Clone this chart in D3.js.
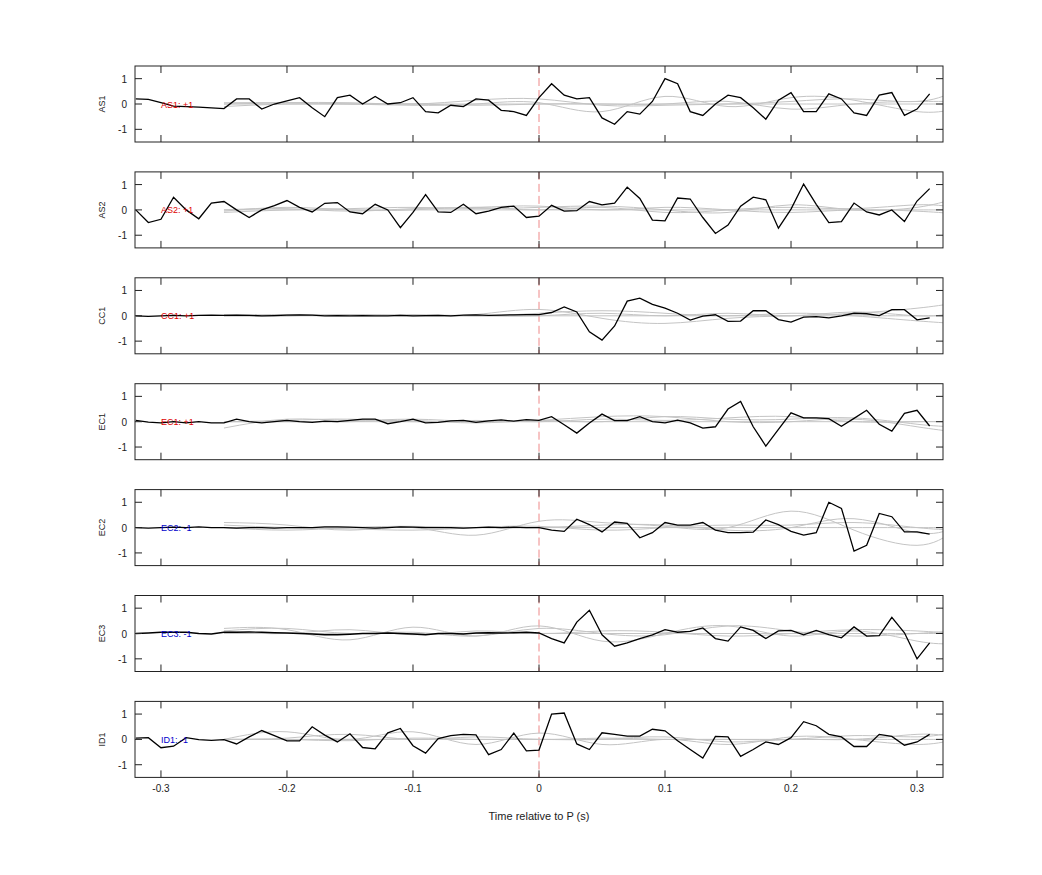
<!DOCTYPE html>
<html>
<head>
<meta charset="utf-8">
<script src="https://cdn.jsdelivr.net/npm/d3@7"></script>
<style>
body{margin:0;background:#fff;font-family:"Liberation Sans",Arial,sans-serif}
</style>
</head>
<body>
<div id="chart"></div>
<script>
// stations, polarity and colour of the label
var stations = ["AS1","AS2","CC1","EC1","EC2","EC3","ID1"];
var polarity = ["+1","+1","+1","+1","-1","-1","-1"];
var labelColor = ["#d00","#d00","#d00","#d00","#00c","#00c","#00c"];

// time samples of the black trace (s)
var times = d3.range(64).map(function(i){ return +(-0.32 + i*0.01).toFixed(2); });

var AS1 = [0.2,0.18,0.05,-0.08,-0.1,-0.12,-0.15,-0.18,0.2,0.2,-0.2,0.0,0.12,0.25,-0.15,-0.5,0.25,0.35,0.0,0.3,0.0,0.05,0.25,-0.3,-0.35,-0.05,-0.1,0.2,0.15,-0.25,-0.3,-0.45,
  0.25,0.8,0.35,0.2,0.25,-0.55,-0.8,-0.3,-0.4,0.1,1.0,0.8,-0.3,-0.45,0.0,0.35,0.25,-0.15,-0.6,0.15,0.45,-0.3,-0.3,0.4,0.2,-0.35,-0.45,0.35,0.45,-0.45,-0.2,0.4];
var AS2 = [0.0,-0.5,-0.37,0.5,0.0,-0.35,0.27,0.33,0.0,-0.3,0.0,0.17,0.37,0.1,-0.08,0.26,0.29,-0.08,-0.15,0.22,0.0,-0.7,-0.1,0.6,-0.08,-0.1,0.22,-0.15,-0.05,0.1,0.15,-0.3,
  -0.25,0.18,-0.05,-0.03,0.33,0.2,0.27,0.9,0.45,-0.4,-0.43,0.47,0.43,-0.3,-0.93,-0.6,0.15,0.5,0.4,-0.72,0.03,1.02,0.22,-0.5,-0.46,0.27,-0.08,-0.2,0.0,-0.46,0.35,0.84];
var CC1 = [0.0,-0.02,0.0,0.02,0.0,0.02,0.03,0.02,0.03,0.02,0.0,0.01,0.03,0.04,0.03,0.0,0.01,0.0,0.01,0.0,0.0,0.02,0.0,0.01,0.02,0.0,0.03,0.04,0.02,0.03,0.04,0.05,
  0.05,0.13,0.35,0.15,-0.63,-0.96,-0.4,0.58,0.7,0.45,0.3,0.1,-0.17,-0.01,0.04,-0.22,-0.21,0.2,0.2,-0.15,-0.25,-0.05,-0.03,-0.08,0.0,0.1,0.08,0.01,0.24,0.24,-0.16,-0.08];
var EC1 = [0.05,-0.02,-0.05,0.0,-0.05,0.0,-0.05,-0.05,0.1,0.0,-0.05,0.0,0.05,0.0,-0.03,0.02,0.0,0.05,0.1,0.1,-0.08,0.0,0.1,-0.05,-0.03,0.03,0.05,-0.03,0.03,0.07,0.02,0.08,
  0.05,0.2,-0.12,-0.45,-0.05,0.3,0.04,0.04,0.2,0.0,-0.05,0.06,-0.05,-0.25,-0.2,0.5,0.8,-0.2,-0.96,-0.3,0.35,0.15,0.15,0.12,-0.18,0.13,0.45,-0.1,-0.37,0.33,0.45,-0.17];
var EC2 = [0.0,-0.02,0.0,0.02,0.0,0.03,0.0,0.0,-0.02,0.0,0.0,-0.02,0.0,0.0,0.0,0.03,0.03,0.02,0.0,-0.02,0.0,0.03,0.02,0.0,0.0,0.0,-0.02,0.0,0.02,0.0,0.02,0.0,
  0.0,-0.1,-0.15,0.33,0.12,-0.17,0.22,0.17,-0.4,-0.2,0.2,0.1,0.1,0.2,-0.1,-0.2,-0.2,-0.18,0.3,0.12,-0.15,-0.3,-0.2,1.0,0.76,-0.93,-0.7,0.56,0.43,-0.17,-0.17,-0.26];
var EC3 = [0.0,0.02,0.05,0.05,0.05,0.0,-0.02,0.05,0.05,0.06,0.05,0.03,0.02,0.0,-0.02,-0.05,-0.05,-0.03,0.0,0.0,0.02,0.0,-0.02,-0.05,0.0,0.0,-0.02,0.02,0.03,0.02,0.03,0.05,
  0.02,-0.2,-0.37,0.45,0.92,-0.05,-0.5,-0.37,-0.2,-0.05,0.15,0.05,0.08,0.22,-0.2,-0.3,0.26,0.12,-0.2,0.1,0.12,-0.05,0.12,-0.04,-0.17,0.26,-0.1,-0.08,0.64,0.03,-1.0,-0.37];
var ID1 = [0.05,0.07,-0.33,-0.27,0.07,-0.01,-0.04,-0.01,-0.18,0.1,0.35,0.15,-0.06,-0.06,0.5,0.17,-0.1,0.22,-0.32,-0.37,0.26,0.43,-0.25,-0.54,0.03,0.15,0.2,0.18,-0.6,-0.4,0.25,-0.45,
  -0.42,1.0,1.04,-0.18,-0.4,0.26,0.2,0.13,0.13,0.4,0.34,-0.05,-0.4,-0.74,0.12,0.1,-0.67,-0.4,-0.1,-0.2,0.07,0.7,0.54,0.2,0.1,-0.28,-0.28,0.2,0.12,-0.23,-0.1,0.2];
var traces = [AS1,AS2,CC1,EC1,EC2,EC3,ID1];

// grey synthetic traces, sampled every 0.05 s
var grayTimes = [-0.25,-0.2,-0.15,-0.1,-0.05,0,0.05,0.1,0.15,0.2,0.25,0.3,0.33];
var grayAS1 = [
  [0,0,0,0,0,0,0,0,0,0,0,0,0],
  [0.05,0.05,0.0,-0.05,0.0,0.05,-0.3,0.3,-0.1,0.25,0.15,-0.3,-0.2],
  [0,0.05,0.05,0.0,0.15,0.2,-0.05,-0.05,0.0,0.1,0.2,0.1,0.5],
  [-0.1,0.0,0.0,0.0,-0.05,0.0,0.0,0.0,0.1,-0.2,0.0,0.1,0.1]];
var grayAS2 = [
  [0,0,0,0,0,0,0,0,0,0,0,0,0],
  [-0.1,0.0,0.05,0.1,0.05,0.1,0.15,0.0,-0.1,0.2,0.0,0.1,0.45],
  [0.0,0.05,-0.05,0.05,0.1,0.15,0.0,0.1,0.0,-0.1,0.0,-0.05,-0.15],
  [-0.05,0.1,0.0,0.0,0.1,0.0,0.1,-0.1,0.0,0.1,0.05,0.2,0.1]];
var grayCC1 = [
  [0,0,0,0,0,0,0,0,0,0,0,0,0],
  [0.05,0.0,0.05,0.0,0.05,0.25,-0.1,-0.3,-0.1,0.0,0.1,0.3,0.5],
  [0.0,0.05,0.0,0.05,0.0,0.1,0.2,0.1,0.0,0.1,0.0,-0.2,-0.3],
  [0.0,0.0,0.05,0.0,0.0,0.0,0.1,0.0,0.1,0.0,0.15,0.0,0.1]];
var grayEC1 = [
  [0,0,0,0,0,0,0,0,0,0,0,0,0],
  [-0.25,0.1,0.05,0.1,0.0,0.05,0.2,0.2,0.0,0.0,0.1,-0.2,-0.4],
  [0.0,0.05,0.1,0.0,0.05,0.0,0.1,0.05,0.15,0.2,0.0,0.0,0.0],
  [0.0,0.0,0.0,0.05,-0.05,0.05,0.0,0.2,0.1,0.1,0.15,-0.1,-0.2]];
var grayEC2 = [
  [0,0,0,0,0,0,0,0,0,0,0,0,0],
  [0.2,0.1,-0.1,0.0,-0.3,0.25,0.2,0.05,0.0,0.65,-0.1,-0.7,-0.1],
  [0.0,-0.1,0.0,0.05,0.0,0.0,0.1,0.1,-0.1,0.0,0.35,-0.2,0.0],
  [0.1,0.0,-0.05,-0.1,0.0,0.05,-0.1,0.0,0.1,0.1,0.2,0.0,-0.1]];
var grayEC3 = [
  [0,0,0,0,0,0,0,0,0,0,0,0,0],
  [0.2,0.15,-0.25,0.25,-0.1,0.3,-0.3,0.0,0.3,-0.1,0.1,-0.3,-0.4],
  [0.1,0.2,0.0,0.05,-0.1,0.2,0.0,-0.05,0.3,0.1,-0.1,0.0,0.1],
  [0.1,0.0,0.15,-0.05,0.1,0.0,0.1,0.05,-0.1,0.0,0.15,0.1,0.0]];
var grayID1 = [
  [0,0,0,0,0,0,0,0,0,0,0,0,0],
  [0.0,0.3,0.0,0.3,-0.2,0.25,-0.2,0.0,-0.2,0.1,0.0,-0.2,0.0],
  [0.0,0.05,0.2,0.0,0.1,0.0,0.05,0.0,0.0,0.0,0.15,0.1,0.3],
  [0.0,0.0,-0.05,0.05,0.0,0.0,0.0,0.1,-0.1,0.0,0.0,0.2,0.1]];
var grays = [grayAS1,grayAS2,grayCC1,grayEC1,grayEC2,grayEC3,grayID1];

var yTicks = [-1,0,1];
var xTicks = [-0.3,-0.2,-0.1,0,0.1,0.2,0.3];

var width = 1042, height = 875;
var left = 135, right = 943;
var panelTop = 66, panelH = 76, panelStep = 105.9;

var svg = d3.select("#chart").append("svg")
    .attr("width", width).attr("height", height);

var x = d3.scaleLinear().domain([-0.3206,0.3206]).range([left,right]);

stations.forEach(function(name, k){
    var top = panelTop + k*panelStep;
    var y = d3.scaleLinear().domain([-1.5,1.5]).range([top+panelH, top]);
    var clipId = "clip"+k;
    svg.append("clipPath").attr("id", clipId).append("rect")
        .attr("x", left).attr("y", top).attr("width", right-left).attr("height", panelH);
    var g = svg.append("g");

    // zero line
    g.append("line").attr("x1", x(0)).attr("x2", x(0)).attr("y1", top).attr("y2", top+panelH)
        .attr("stroke","#e88").attr("stroke-dasharray","8,4").attr("stroke-width",1);

    var grayLine = d3.line().x(function(d,i){ return x(grayTimes[i]); })
        .y(function(d){ return y(d); }).curve(d3.curveNatural);
    g.selectAll(".gray").data(grays[k]).enter().append("path")
        .attr("d", grayLine).attr("fill","none").attr("stroke","#c4c4c4").attr("stroke-width",1)
        .attr("clip-path","url(#"+clipId+")");

    var line = d3.line().x(function(d,i){ return x(times[i]); }).y(function(d){ return y(d); });
    g.append("path").datum(traces[k]).attr("d", line).attr("fill","none")
        .attr("stroke","#000").attr("stroke-width",1.3).attr("clip-path","url(#"+clipId+")");

    g.append("text").attr("x", x(-0.3)).attr("y", y(0)+3.5).attr("font-size",9)
        .attr("fill", labelColor[k]).text(name+": "+polarity[k]);

    // box
    g.append("rect").attr("x", left).attr("y", top).attr("width", right-left).attr("height", panelH)
        .attr("fill","none").attr("stroke","#222").attr("stroke-width",1);

    // inward ticks
    yTicks.forEach(function(t){
        g.append("line").attr("x1", left).attr("x2", left+7).attr("y1", y(t)).attr("y2", y(t)).attr("stroke","#222");
        g.append("line").attr("x1", right-7).attr("x2", right).attr("y1", y(t)).attr("y2", y(t)).attr("stroke","#222");
        g.append("text").attr("x", left-8).attr("y", y(t)+4).attr("text-anchor","end")
            .attr("font-size",10).attr("fill","#222").text(t);
    });
    xTicks.forEach(function(t){
        g.append("line").attr("x1", x(t)).attr("x2", x(t)).attr("y1", top).attr("y2", top+7).attr("stroke","#222");
        g.append("line").attr("x1", x(t)).attr("x2", x(t)).attr("y1", top+panelH-7).attr("y2", top+panelH).attr("stroke","#222");
        if (k == stations.length-1) {
            g.append("text").attr("x", x(t)).attr("y", top+panelH+15).attr("text-anchor","middle")
                .attr("font-size",10).attr("fill","#222").text(t);
        }
    });

    g.append("text").attr("transform","translate("+(left-30)+","+y(0)+") rotate(-90)")
        .attr("text-anchor","middle").attr("font-size",9).attr("fill","#222").text(name);
});

svg.append("text").attr("x", x(0)).attr("y", 820).attr("text-anchor","middle")
    .attr("font-size",11).attr("fill","#222").text("Time relative to P (s)");
</script>
</body>
</html>
